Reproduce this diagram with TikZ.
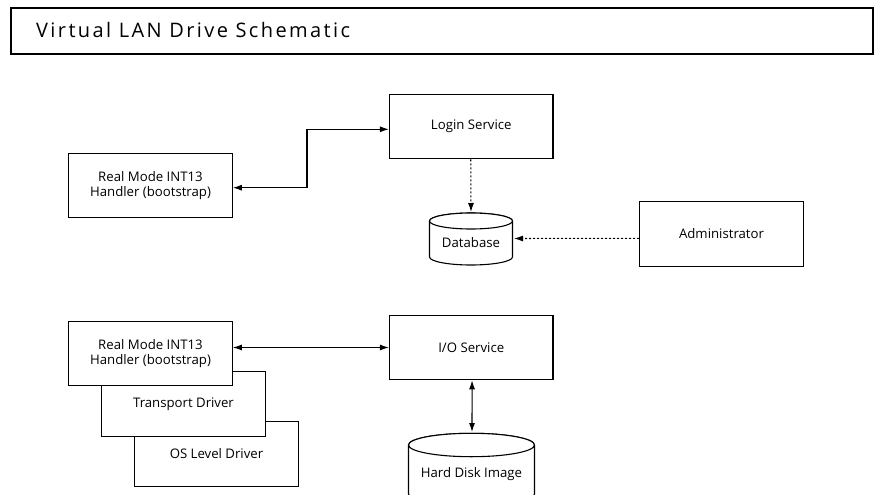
\documentclass[tikz,border=0pt]{standalone}
\usepackage{fontspec}
\setmainfont{Open Sans}
\newfontfamily\titlefont[LetterSpace=12]{Open Sans}
\usetikzlibrary{arrows.meta}
\begin{document}
\begin{tikzpicture}[x=1pt,y=-1pt,
  box/.style={draw=black,line width=1.15pt,fill=white,minimum width=163.5pt,minimum height=64.5pt,
    inner sep=0pt,align=center,font=\fontsize{13.2}{14.8}\selectfont},
  lbl/.style={inner sep=0pt,align=center,font=\fontsize{13.2}{14.8}\selectfont},
  conn/.style={line width=1.05pt,{Latex[length=9pt,width=6pt]}-{Latex[length=9pt,width=6pt]}},
  dotconn/.style={line width=1.05pt,dash pattern=on 2pt off 2pt,-{Latex[length=9pt,width=6pt]}},
  cyl/.style={draw=black,line width=1.1pt,fill=white}]
\useasboundingbox (0,0) rectangle (875,495);
\clip (0,0) rectangle (875,495);
% title
\node[draw=black,line width=1.1pt,minimum width=862pt,minimum height=46pt,inner sep=0pt] (titlebox) at (442,31) {};
\node[anchor=base west,inner sep=0pt,font=\titlefont\fontsize{20}{22}\selectfont] (title) at (36,37.5) {Virtual LAN Drive Schematic};
% upper group
\node[box] (rm1) at (150.5,185.5) {Real Mode INT13\\Handler (bootstrap)};
\node[box] (login) at (471.25,126.5) {Login Service};
\node[box] (admin) at (721.5,234) {Administrator};
% database cylinder
\coordinate (dbtop) at (471,212);
\path[cyl] (429.5,221) -- (429.5,257) arc[start angle=180,end angle=360,x radius=41.5pt,y radius=8pt] -- (512.5,221) arc[start angle=0,end angle=180,x radius=41.5pt,y radius=8pt] -- cycle;
\draw[cyl] (471,221) ellipse[x radius=41.5pt,y radius=8pt];
\node[lbl] (db) at (471,243) {Database};
\coordinate (dbright) at (514,238.5);
% lower group
\node[box] (os) at (216.5,454) {OS Level Driver};
\node[box] (tr) at (183.5,404) {Transport Driver};
\node[box] (rm2) at (150.5,353.4) {Real Mode INT13\\Handler (bootstrap)};
\node[box] (io) at (471.25,347.5) {I/O Service};
% hard disk cylinder
\coordinate (hdtop) at (472,432);
\path[cyl] (408.5,445) -- (408.5,494) arc[start angle=180,end angle=360,x radius=63pt,y radius=11.7pt] -- (534.5,445) arc[start angle=0,end angle=180,x radius=63pt,y radius=11.7pt] -- cycle;
\draw[cyl] (471.5,445) ellipse[x radius=63pt,y radius=11.7pt];
\node[lbl] (hd) at (471.5,474) {Hard Disk Image};
% connectors
\draw[conn] ([yshift=-2.2pt]rm1.east) -- (307,187.7) -- (307,129.3) -- ([yshift=-2.8pt]login.west);
\draw[dotconn] ([xshift=-0.5pt]login.south) -- (dbtop);
\draw[dotconn] ([yshift=-4.3pt]admin.west) -- (dbright);
\draw[conn] (rm2.east |- io.west) -- (io.west);
\draw[conn] ([xshift=0.8pt]io.south) -- (hdtop);
\end{tikzpicture}
\end{document}
